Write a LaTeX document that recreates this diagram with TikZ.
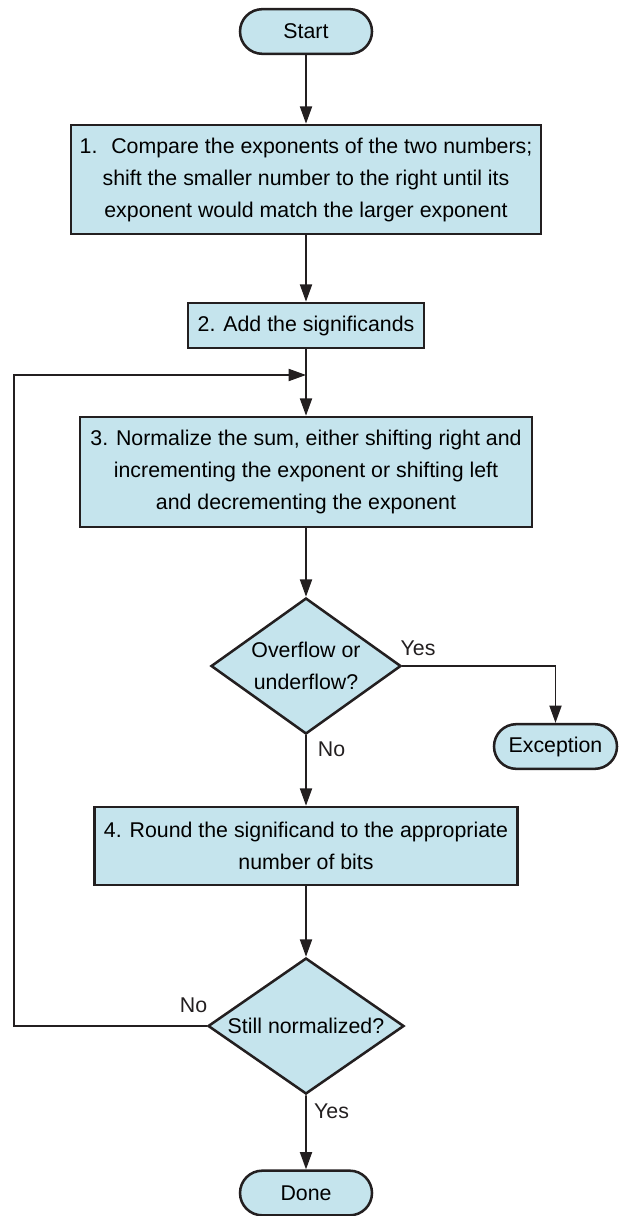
\documentclass[tikz,border=0pt]{standalone}
\usepackage{fontspec}
\setmainfont{Liberation Sans}
\usetikzlibrary{arrows.meta,shapes.geometric,shapes.misc}
\definecolor{boxfill}{RGB}{197,228,237}
\definecolor{boxline}{RGB}{35,31,32}

\begin{document}
\begin{tikzpicture}[x=0.75pt,y=0.75pt,yscale=-1,xscale=1,
  every node/.style={font=\fontsize{16}{24}\selectfont},
  stepbox/.style={draw=boxline,line width=1.9pt,fill=boxfill,align=center,inner sep=0pt},
  term/.style={rounded rectangle,draw=boxline,line width=1.9pt,fill=boxfill,minimum width=99pt,minimum height=33.5pt,inner sep=0pt},
  test/.style={diamond,draw=boxline,line width=1.9pt,fill=boxfill,align=center,inner sep=0pt,minimum height=102pt},
  arr/.style={draw=boxline,line width=1.4pt,-{Triangle[length=13pt,width=9pt]}},
  lbl/.style={inner sep=0pt,text=boxline}]
\useasboundingbox (0,0) rectangle (621,1216);

%Shape: Terminals and steps
\node[term] (start) at (306,31.5) {Start};
\node[stepbox,minimum width=352.5pt,minimum height=81.75pt] (cmp) at (306,179.5) {1.~ Compare the exponents of the two numbers;\\shift the smaller number to the right until its\\exponent would match the larger exponent};
\node[stepbox,minimum width=177pt,minimum height=33.75pt] (add) at (306,325.5) {2. Add the significands};
\node[stepbox,minimum width=339pt,minimum height=82.5pt] (norm) at (306,472) {3. Normalize the sum, either shifting right and\\incrementing the exponent or shifting left\\and decrementing the exponent};
\node[test,minimum width=142.5pt,aspect=1.39] (ovf) at (306,666) {Overflow or\\underflow?};
\node[term,minimum width=92.25pt] (exc) at (555.5,746.5) {Exception};
\node[stepbox,minimum width=317.25pt,minimum height=58.5pt] (round) at (306,846) {4. Round the significand to the appropriate\\number of bits};
\node[test,minimum width=147pt,aspect=1.43] (still) at (306,1026) {Still normalized?};
\node[term] (done) at (306,1193) {Done};

%Straight Lines
\draw[arr] (start) -- (cmp);
\draw[arr] (cmp) -- (add);
\draw[arr] (add) -- (norm);
\draw[arr] (norm) -- (ovf);
\draw[arr] (ovf) -- (round);
\draw[arr] (ovf.east) -| (exc.north);
\draw[arr] (round) -- (still);
\draw[arr] (still) -- (done);
% loop back
\coordinate (merge) at (306,375);
\coordinate (back) at (14,375);
\draw[arr] (still.west) -| (back) -- (merge);

% Text Node
\node[lbl] (yes1) at (418,648) {Yes};
\node[lbl] (no1) at (331.5,749) {No};
\node[lbl] (no2) at (193.5,1005) {No};
\node[lbl] (yes2) at (331.5,1111) {Yes};

\end{tikzpicture}
\end{document}
